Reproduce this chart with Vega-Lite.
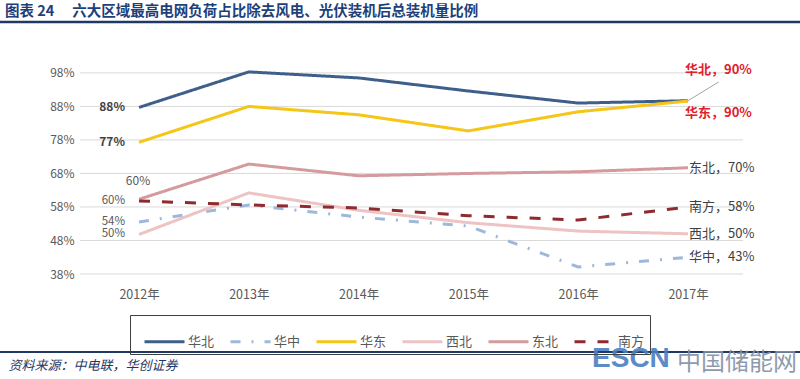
{
  "$schema": "https://vega.github.io/schema/vega-lite/v6.json",
  "width": 800,
  "height": 244,
  "autosize": {"type": "none"},
  "padding": {"top": 30, "left": 0, "right": 0, "bottom": 105},
  "background": "white",
  "title": {
    "text": "图表 24\u3000\u00a0六大区域最高电网负荷占比除去风电、光伏装机后总装机量比例",
    "anchor": "start",
    "frame": "group",
    "dx": 5,
    "offset": 1,
    "fontSize": 14.5,
    "fontWeight": "bold",
    "color": "#1F3F7A",
    "font": "Noto Sans CJK SC"
  },
  "config": {"view": {"stroke": null}, "font": "Noto Sans CJK SC"},
  "datasets": {
    "main": [
      {"series": "华北", "year": 2012, "value": 87.7, "label": "88%"},
      {"series": "华北", "year": 2013, "value": 98.3, "label": ""},
      {"series": "华北", "year": 2014, "value": 96.5, "label": ""},
      {"series": "华北", "year": 2015, "value": 92.6, "label": ""},
      {"series": "华北", "year": 2016, "value": 89.0, "label": ""},
      {"series": "华北", "year": 2017, "value": 89.7, "label": "华北，90%"},
      {"series": "华中", "year": 2012, "value": 53.5, "label": "54%"},
      {"series": "华中", "year": 2013, "value": 58.6, "label": ""},
      {"series": "华中", "year": 2014, "value": 55.0, "label": ""},
      {"series": "华中", "year": 2015, "value": 52.3, "label": ""},
      {"series": "华中", "year": 2016, "value": 40.1, "label": ""},
      {"series": "华中", "year": 2017, "value": 43.0, "label": "华中，43%"},
      {"series": "华东", "year": 2012, "value": 77.3, "label": "77%"},
      {"series": "华东", "year": 2013, "value": 88.0, "label": ""},
      {"series": "华东", "year": 2014, "value": 85.5, "label": ""},
      {"series": "华东", "year": 2015, "value": 80.7, "label": ""},
      {"series": "华东", "year": 2016, "value": 86.4, "label": ""},
      {"series": "华东", "year": 2017, "value": 89.6, "label": "华东，90%"},
      {"series": "西北", "year": 2012, "value": 49.8, "label": "50%"},
      {"series": "西北", "year": 2013, "value": 62.2, "label": ""},
      {"series": "西北", "year": 2014, "value": 57.0, "label": ""},
      {"series": "西北", "year": 2015, "value": 53.3, "label": ""},
      {"series": "西北", "year": 2016, "value": 50.8, "label": ""},
      {"series": "西北", "year": 2017, "value": 50.0, "label": "西北，50%"},
      {"series": "东北", "year": 2012, "value": 60.3, "label": "60%"},
      {"series": "东北", "year": 2013, "value": 70.8, "label": ""},
      {"series": "东北", "year": 2014, "value": 67.3, "label": ""},
      {"series": "东北", "year": 2015, "value": 68.0, "label": ""},
      {"series": "东北", "year": 2016, "value": 68.5, "label": ""},
      {"series": "东北", "year": 2017, "value": 69.7, "label": "东北，70%"},
      {"series": "南方", "year": 2012, "value": 59.8, "label": "60%"},
      {"series": "南方", "year": 2013, "value": 58.6, "label": ""},
      {"series": "南方", "year": 2014, "value": 57.7, "label": ""},
      {"series": "南方", "year": 2015, "value": 55.4, "label": ""},
      {"series": "南方", "year": 2016, "value": 54.1, "label": ""},
      {"series": "南方", "year": 2017, "value": 58.0, "label": "南方，58%"}
    ],
    "grid": [{"g": 38}, {"g": 48}, {"g": 58}, {"g": 68}, {"g": 78}, {"g": 88}, {"g": 98}],
    "wm": [{"t1": "ESCN", "t2": "中国储能网"}]
  },
  "resolve": {"axis": {"x": "independent"}},
  "layer": [
    {
      "data": {"name": "grid"},
      "mark": {"type": "rule", "color": "#D9D9D9", "strokeWidth": 1},
      "encoding": {
        "x": {"datum": 2011.463, "type": "quantitative", "axis": null, "scale": {"domain": [2010.734, 2018.02], "nice": false, "zero": false}},
        "x2": {"datum": 2017.501},
        "y": {"field": "g", "type": "quantitative", "scale": {"domain": [38, 110.8], "nice": false, "zero": false}}
      }
    },
    {
      "data": {"name": "wm"},
      "mark": {"type": "rule", "color": "#1F3864", "strokeWidth": 2.5},
      "encoding": {
        "y": {"datum": 113.19, "type": "quantitative", "scale": {"domain": [38, 110.8], "nice": false, "zero": false}}
      }
    },
    {
      "data": {"name": "wm"},
      "mark": {"type": "rule", "color": "#1F3864", "strokeWidth": 2},
      "encoding": {
        "y": {"datum": 14.73, "type": "quantitative", "scale": {"domain": [38, 110.8], "nice": false, "zero": false}}
      }
    },
    {
      "data": {"name": "main"},
      "mark": {"type": "line", "strokeWidth": 3},
      "encoding": {
        "x": {
          "field": "year", "type": "quantitative",
          "scale": {"domain": [2010.734, 2018.02], "nice": false, "zero": false},
          "axis": {
            "values": [2012, 2013, 2014, 2015, 2016, 2017],
            "labelExpr": "datum.value + '年'",
            "grid": false, "ticks": false, "domain": false, "title": null,
            "labelFontSize": 12.5, "labelColor": "#595959", "labelPadding": 14
          }
        },
        "y": {
          "field": "value", "type": "quantitative",
          "scale": {"domain": [38, 110.8], "nice": false, "zero": false},
          "axis": {
            "values": [38, 48, 58, 68, 78, 88, 98],
            "labelExpr": "datum.value + '%'",
            "offset": -80, "labelPadding": 6,
            "grid": false, "ticks": false, "domain": false, "title": null,
            "labelFontSize": 12, "labelColor": "#595959"
          }
        },
        "color": {
          "field": "series", "type": "nominal",
          "scale": {"domain": ["华北", "华中", "华东", "西北", "东北", "南方"], "range": ["#3E5F8A", "#9DB8DA", "#F5C518", "#EDC3C3", "#D49A9D", "#8E2B2F"]},
          "legend": {
            "orient": "none", "legendX": 130, "legendY": 285,
            "direction": "horizontal", "columns": 6,
            "title": "\u00a0", "titleOrient": "left", "titlePadding": 8, "titleFontSize": 12,
            "symbolType": "stroke", "symbolSize": 1600, "symbolStrokeWidth": 3,
            "labelFontSize": 13, "labelColor": "#595959", "labelOffset": 2,
            "columnPadding": 9, "padding": 5,
            "strokeColor": "#404040"
          }
        },
        "strokeDash": {
          "field": "series", "type": "nominal",
          "scale": {"domain": ["华北", "华中", "华东", "西北", "东北", "南方"], "range": [[1, 0], [10, 11, 2, 11], [1, 0], [1, 0], [1, 0], [11, 12]]}
        }
      }
    },
    {
      "data": {"name": "main"},
      "transform": [{"filter": "datum.year == 2012 && (datum.series == '华北' || datum.series == '华东')"}],
      "mark": {"type": "text", "align": "right", "dx": -14, "fontSize": 12, "fontWeight": "bold", "color": "#404040"},
      "encoding": {
        "x": {"field": "year", "type": "quantitative", "scale": {"domain": [2010.734, 2018.02], "nice": false, "zero": false}, "axis": null},
        "y": {"field": "value", "type": "quantitative", "scale": {"domain": [38, 110.8], "nice": false, "zero": false}},
        "text": {"field": "label"}
      }
    },
    {
      "data": {"name": "main"},
      "transform": [{"filter": "datum.year == 2012 && (datum.series == '华中' || datum.series == '西北' || datum.series == '南方')"}],
      "mark": {"type": "text", "align": "right", "dx": -14, "fontSize": 11.5, "color": "#595959"},
      "encoding": {
        "x": {"field": "year", "type": "quantitative", "scale": {"domain": [2010.734, 2018.02], "nice": false, "zero": false}, "axis": null},
        "y": {"field": "value", "type": "quantitative", "scale": {"domain": [38, 110.8], "nice": false, "zero": false}},
        "text": {"field": "label"}
      }
    },
    {
      "data": {"name": "main"},
      "transform": [{"filter": "datum.year == 2012 && datum.series == '东北'"}],
      "mark": {"type": "text", "align": "center", "dx": -1, "dy": -18, "fontSize": 12, "color": "#595959"},
      "encoding": {
        "x": {"field": "year", "type": "quantitative", "scale": {"domain": [2010.734, 2018.02], "nice": false, "zero": false}, "axis": null},
        "y": {"field": "value", "type": "quantitative", "scale": {"domain": [38, 110.8], "nice": false, "zero": false}},
        "text": {"field": "label"}
      }
    },
    {
      "data": {"name": "main"},
      "transform": [{"filter": "datum.year == 2017 && (datum.series == '东北' || datum.series == '南方' || datum.series == '西北' || datum.series == '华中')"}],
      "mark": {"type": "text", "align": "left", "dx": 1, "fontSize": 13, "color": "#404040"},
      "encoding": {
        "x": {"field": "year", "type": "quantitative", "scale": {"domain": [2010.734, 2018.02], "nice": false, "zero": false},
          "axis": {"orient": "bottom", "offset": 78, "domain": false, "labels": false, "ticks": false, "grid": false,
            "title": "资料来源：中电联，华创证券", "titleX": 8, "titleY": 13, "titleAlign": "left", "titleAnchor": "start", "titleBaseline": "middle",
            "titleFontSize": 13, "titleFontStyle": "italic", "titleFontWeight": "normal", "titleColor": "#1F3864"}},
        "y": {"field": "value", "type": "quantitative", "scale": {"domain": [38, 110.8], "nice": false, "zero": false}},
        "text": {"field": "label"}
      }
    },
    {
      "data": {"name": "main"},
      "transform": [{"filter": "datum.year == 2017 && datum.series == '华北'"}],
      "mark": {"type": "rule", "color": "#A6A6A6", "strokeWidth": 1},
      "encoding": {
        "x": {"field": "year", "type": "quantitative", "scale": {"domain": [2010.734, 2018.02], "nice": false, "zero": false}, "axis": null},
        "x2": {"datum": 2017.28},
        "y": {"field": "value", "type": "quantitative", "scale": {"domain": [38, 110.8], "nice": false, "zero": false}},
        "y2": {"datum": 95.3}
      }
    },
    {
      "data": {"name": "main"},
      "transform": [{"filter": "datum.year == 2017 && datum.series == '华北'"}],
      "mark": {"type": "text", "align": "left", "dx": -3, "dy": -31, "fontSize": 13, "fontWeight": "bold", "color": "#E0202A"},
      "encoding": {
        "x": {"field": "year", "type": "quantitative", "scale": {"domain": [2010.734, 2018.02], "nice": false, "zero": false}, "axis": null},
        "y": {"field": "value", "type": "quantitative", "scale": {"domain": [38, 110.8], "nice": false, "zero": false}},
        "text": {"field": "label"}
      }
    },
    {
      "data": {"name": "main"},
      "transform": [{"filter": "datum.year == 2017 && datum.series == '华东'"}],
      "mark": {"type": "text", "align": "left", "dx": -3, "dy": 12, "fontSize": 13, "fontWeight": "bold", "color": "#E0202A"},
      "encoding": {
        "x": {"field": "year", "type": "quantitative", "scale": {"domain": [2010.734, 2018.02], "nice": false, "zero": false}, "axis": null},
        "y": {"field": "value", "type": "quantitative", "scale": {"domain": [38, 110.8], "nice": false, "zero": false}},
        "text": {"field": "label"}
      }
    },
    {
      "data": {"name": "wm"},
      "mark": {"type": "text", "align": "left", "baseline": "alphabetic", "fontSize": 28, "fontWeight": "bold", "font": "Liberation Sans", "color": "#4A80BF", "opacity": 0.9},
      "encoding": {
        "x": {"datum": 2016.126, "type": "quantitative", "scale": {"domain": [2010.734, 2018.02], "nice": false, "zero": false}, "axis": null},
        "y": {"datum": 10.25, "type": "quantitative", "scale": {"domain": [38, 110.8], "nice": false, "zero": false}},
        "text": {"field": "t1"}
      }
    },
    {
      "data": {"name": "wm"},
      "mark": {"type": "text", "align": "left", "baseline": "alphabetic", "fontSize": 24, "color": "#8391A5", "opacity": 0.9},
      "encoding": {
        "x": {"datum": 2016.9, "type": "quantitative", "scale": {"domain": [2010.734, 2018.02], "nice": false, "zero": false}, "axis": null},
        "y": {"datum": 9.5, "type": "quantitative", "scale": {"domain": [38, 110.8], "nice": false, "zero": false}},
        "text": {"field": "t2"}
      }
    }
  ]
}
